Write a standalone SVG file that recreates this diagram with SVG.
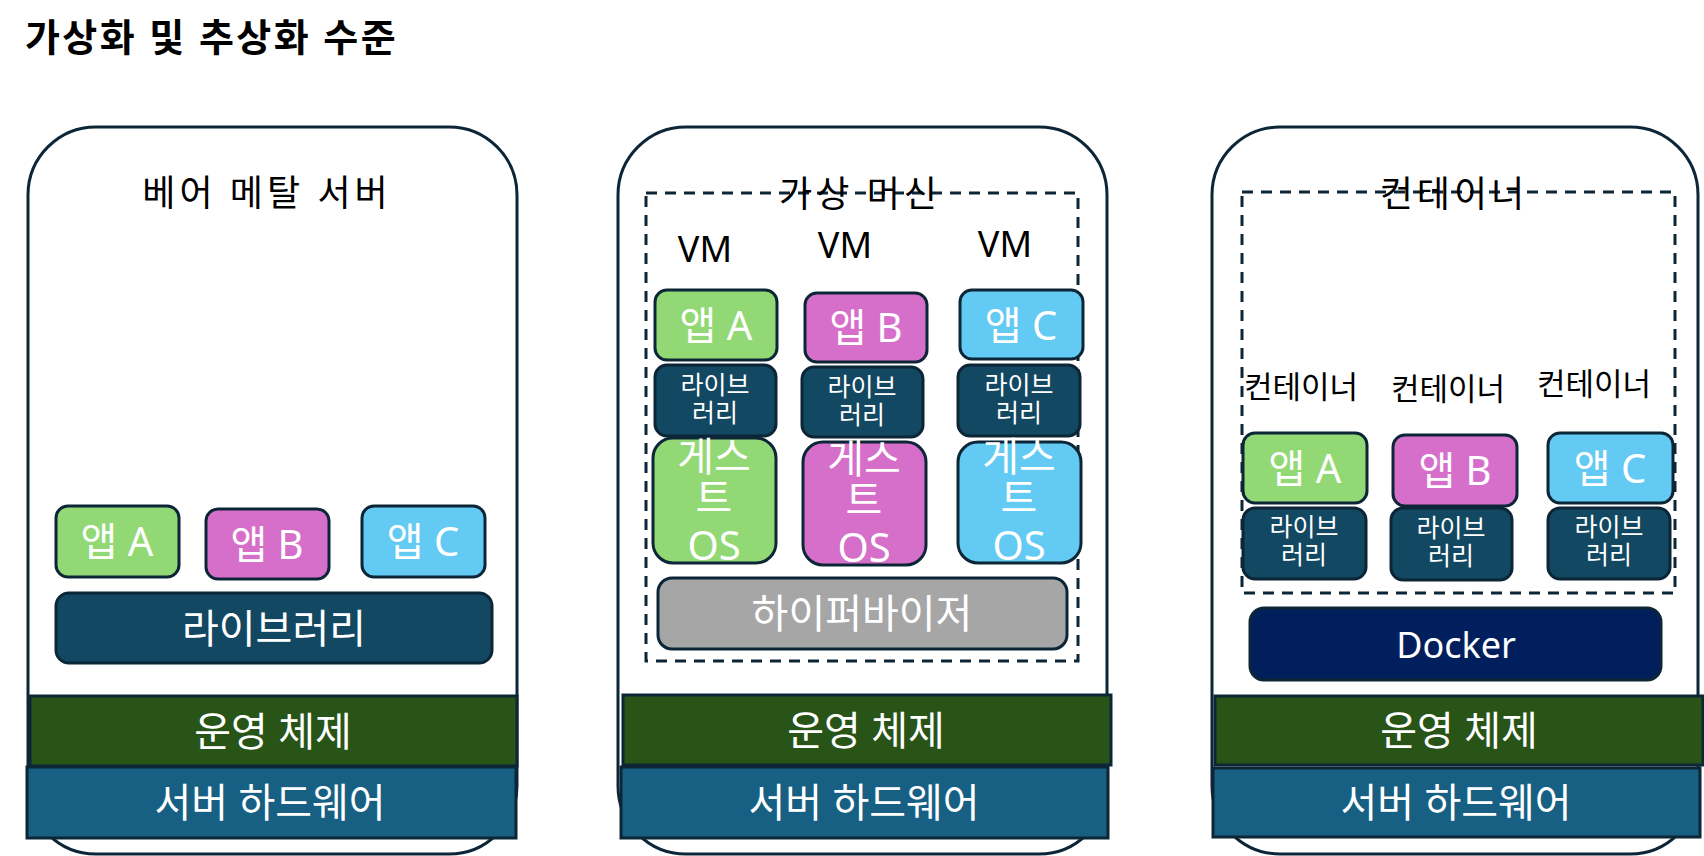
<svg xmlns="http://www.w3.org/2000/svg" width="1704" height="856" viewBox="0 0 1704 856">
<style>
text{font-family:"Noto Sans","Noto Sans CJK KR",sans-serif;text-anchor:middle}
.panel{fill:#fff;stroke:#0c2637;stroke-width:3}
.dash{fill:none;stroke:#0c2637;stroke-width:3;stroke-dasharray:11 8}
.box{stroke:#0c2637;stroke-width:3}
.ga{fill:#92d975}.gb{fill:#d66fca}.gc{fill:#63caf4}
.lib{fill:#134862}.os{fill:#295417}.hw{fill:#176083}
.hyp{fill:#a6a6a6}.dock{fill:#011f5c}
.w{fill:#fff}.k{fill:#000}
.t40{font-size:40px}.ttl{font-size:36px;letter-spacing:4px}.t25{font-size:25px}.t31{font-size:31px}.vm{font-size:36px}
</style>
<text x="25" y="51" style="text-anchor:start;font-size:38px;font-weight:bold;letter-spacing:2.4px" class="k">가상화 및 추상화 수준</text>

<g id="panel-baremetal">
<rect class="panel" x="28" y="127" width="489" height="727" rx="68"/>
<text class="k ttl" x="267" y="206">베어 메탈 서버</text>
<g id="bm-app-a"><rect class="box ga" x="56" y="506" width="123" height="71" rx="12"/><text class="w t40" x="117" y="556">앱 A</text></g>
<g id="bm-app-b"><rect class="box gb" x="206" y="509" width="123" height="70" rx="12"/><text class="w t40" x="267" y="559">앱 B</text></g>
<g id="bm-app-c"><rect class="box gc" x="362" y="506" width="123" height="71" rx="12"/><text class="w t40" x="423" y="556">앱 C</text></g>
<g id="bm-lib"><rect class="box lib" x="56" y="593" width="436" height="70" rx="13"/><text class="w t40" x="274" y="643">라이브러리</text></g>
<g id="bm-os"><rect class="box os" x="30" y="696" width="487" height="70"/><text class="w t40" x="273" y="746">운영 체제</text></g>
<g id="bm-hw"><rect class="box hw" x="27" y="767" width="489" height="71"/><text class="w t40" x="270" y="817">서버 하드웨어</text></g>
</g>

<g id="panel-vm">
<rect class="panel" x="618" y="127" width="489" height="727" rx="68"/>
<rect class="dash" x="646" y="193" width="432" height="468"/>
<text class="k ttl" x="860" y="207">가상 머신</text>
<text class="k vm" x="705" y="262">VM</text>
<text class="k vm" x="845" y="258">VM</text>
<text class="k vm" x="1005" y="257">VM</text>
<g id="vm-app-a"><rect class="box ga" x="655" y="290" width="122" height="70" rx="12"/><text class="w t40" x="716" y="340">앱 A</text></g>
<g id="vm-app-b"><rect class="box gb" x="805" y="293" width="122" height="69" rx="12"/><text class="w t40" x="866" y="342">앱 B</text></g>
<g id="vm-app-c"><rect class="box gc" x="960" y="290" width="123" height="69" rx="12"/><text class="w t40" x="1021" y="340">앱 C</text></g>
<g id="vm-lib-a"><rect class="box lib" x="655" y="365" width="121" height="71" rx="12"/><text class="w t25" x="715" y="394">라이브</text><text class="w t25" x="715" y="422">러리</text></g>
<g id="vm-lib-b"><rect class="box lib" x="802" y="367" width="121" height="70" rx="12"/><text class="w t25" x="862" y="396">라이브</text><text class="w t25" x="862" y="424">러리</text></g>
<g id="vm-lib-c"><rect class="box lib" x="958" y="365" width="122" height="71" rx="12"/><text class="w t25" x="1019" y="394">라이브</text><text class="w t25" x="1019" y="422">러리</text></g>
<g id="vm-guest-a"><rect class="box ga" x="653" y="438" width="123" height="125" rx="20"/><text class="w t40" x="714" y="471">게스</text><text class="w t40" x="714" y="512">트</text><text class="w t40" x="714" y="560">OS</text></g>
<g id="vm-guest-b"><rect class="box gb" x="803" y="442" width="123" height="123" rx="20"/><text class="w t40" x="864" y="473">게스</text><text class="w t40" x="864" y="514">트</text><text class="w t40" x="864" y="562">OS</text></g>
<g id="vm-guest-c"><rect class="box gc" x="958" y="442" width="123" height="121" rx="20"/><text class="w t40" x="1019" y="471">게스</text><text class="w t40" x="1019" y="512">트</text><text class="w t40" x="1019" y="560">OS</text></g>
<g id="vm-hypervisor"><rect class="box hyp" x="658" y="578" width="409" height="71" rx="14"/><text class="w t40" x="862" y="628">하이퍼바이저</text></g>
<g id="vm-os"><rect class="box os" x="623" y="695" width="488" height="70"/><text class="w t40" x="866" y="745">운영 체제</text></g>
<g id="vm-hw"><rect class="box hw" x="621" y="767" width="487" height="71"/><text class="w t40" x="864" y="817">서버 하드웨어</text></g>
</g>

<g id="panel-container">
<rect class="panel" x="1212" y="127" width="486" height="727" rx="68"/>
<rect class="dash" x="1242" y="192" width="433" height="401"/>
<text class="k ttl" x="1454" y="207">컨테이너</text>
<text class="k t31" x="1301" y="398">컨테이너</text>
<text class="k t31" x="1448" y="400">컨테이너</text>
<text class="k t31" x="1594" y="395">컨테이너</text>
<g id="ct-app-a"><rect class="box ga" x="1243" y="433" width="124" height="70" rx="12"/><text class="w t40" x="1305" y="483">앱 A</text></g>
<g id="ct-app-b"><rect class="box gb" x="1393" y="435" width="124" height="71" rx="12"/><text class="w t40" x="1455" y="485">앱 B</text></g>
<g id="ct-app-c"><rect class="box gc" x="1548" y="433" width="125" height="70" rx="12"/><text class="w t40" x="1610" y="483">앱 C</text></g>
<g id="ct-lib-a"><rect class="box lib" x="1243" y="508" width="123" height="71" rx="12"/><text class="w t25" x="1304" y="536">라이브</text><text class="w t25" x="1304" y="564">러리</text></g>
<g id="ct-lib-b"><rect class="box lib" x="1391" y="508" width="121" height="72" rx="12"/><text class="w t25" x="1451" y="537">라이브</text><text class="w t25" x="1451" y="565">러리</text></g>
<g id="ct-lib-c"><rect class="box lib" x="1548" y="508" width="122" height="71" rx="12"/><text class="w t25" x="1609" y="536">라이브</text><text class="w t25" x="1609" y="564">러리</text></g>
<g id="ct-docker"><rect class="box dock" x="1250" y="608" width="411" height="72" rx="14"/><text class="w" style="font-size:36px" x="1456" y="658">Docker</text></g>
<g id="ct-os"><rect class="box os" x="1215" y="696" width="488" height="69"/><text class="w t40" x="1459" y="745">운영 체제</text></g>
<g id="ct-hw"><rect class="box hw" x="1213" y="768" width="487" height="69"/><text class="w t40" x="1456" y="817">서버 하드웨어</text></g>
</g>

<g id="connectors"></g>
</svg>
